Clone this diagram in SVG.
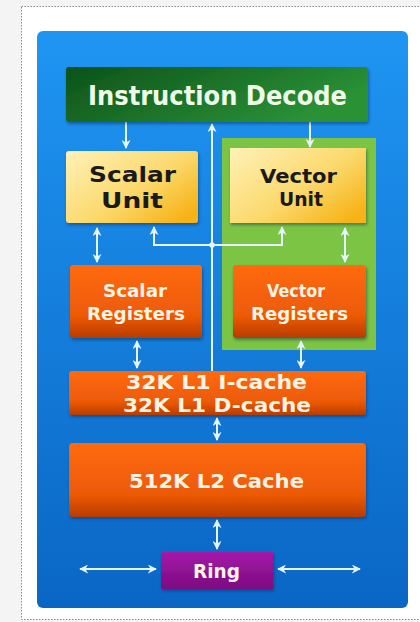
<svg xmlns="http://www.w3.org/2000/svg" width="420" height="622" viewBox="0 0 420 622">
<style>
.t{font-family:"DejaVu Sans","Liberation Sans",sans-serif;font-weight:bold;text-anchor:middle}
.w{fill:#fff4e4}
.k{fill:#1a1a1a}
.c{stroke:#e6f4ff;stroke-width:2;fill:none}
</style>
<defs>
<linearGradient id="gBlue" x1="0" y1="0" x2="0" y2="1"><stop offset="0" stop-color="#1f95f2"/><stop offset="1" stop-color="#0a66c4"/></linearGradient>
<linearGradient id="gDec" x1="0" y1="0" x2="1" y2="0.4"><stop offset="0" stop-color="#0c5219"/><stop offset="1" stop-color="#2a9136"/></linearGradient>
<linearGradient id="gYel" x1="0" y1="0" x2="1" y2="0.8"><stop offset="0" stop-color="#fff1b8"/><stop offset="0.6" stop-color="#fbd86a"/><stop offset="1" stop-color="#f7b318"/></linearGradient>
<linearGradient id="gOra" x1="0" y1="0" x2="0" y2="1"><stop offset="0" stop-color="#ff6a0c"/><stop offset="0.7" stop-color="#ec5a06"/><stop offset="1" stop-color="#b83c00"/></linearGradient>
<linearGradient id="gPur" x1="0" y1="0" x2="0" y2="1"><stop offset="0" stop-color="#a41aa8"/><stop offset="1" stop-color="#7c0a80"/></linearGradient>
<filter id="sh" x="-10%" y="-10%" width="130%" height="140%"><feDropShadow dx="1" dy="2" stdDeviation="1.5" flood-color="#002050" flood-opacity="0.45"/></filter>
<marker id="ah" viewBox="0 0 10 10" refX="9" refY="5" markerWidth="4.5" markerHeight="4.5" orient="auto-start-reverse" markerUnits="strokeWidth"><path d="M0,0 L10,5 L0,10 L3,5 Z" fill="#e6f4ff"/></marker>
</defs>
<rect x="0" y="0" width="420" height="622" fill="#f4f4f4"/>
<rect x="21.5" y="6.5" width="420" height="613" fill="#ffffff" stroke="#8a8a8a" stroke-width="1" stroke-dasharray="1.5,1.5"/>
<rect id="panel" x="37" y="31" width="371" height="577" rx="6" fill="url(#gBlue)"/>
<rect id="vectorArea" x="222" y="138" width="154" height="212" fill="#7cc444"/>

<g id="connectors">
<line class="c" x1="126" y1="122" x2="126" y2="148" marker-end="url(#ah)"/>
<line class="c" x1="310" y1="122" x2="310" y2="147" marker-end="url(#ah)"/>
<line class="c" x1="212" y1="371" x2="212" y2="124" marker-end="url(#ah)"/>
<line class="c" x1="97" y1="228" x2="97" y2="262" marker-start="url(#ah)" marker-end="url(#ah)"/>
<line class="c" x1="345" y1="228" x2="345" y2="262" marker-start="url(#ah)" marker-end="url(#ah)"/>
<polyline class="c" points="154,227 154,245 282,245 282,227" marker-start="url(#ah)" marker-end="url(#ah)"/>
<circle cx="212" cy="245" r="2.8" fill="#e6f4ff"/>
<line class="c" x1="137" y1="341" x2="137" y2="368" marker-start="url(#ah)" marker-end="url(#ah)"/>
<line class="c" x1="301" y1="341" x2="301" y2="368" marker-start="url(#ah)" marker-end="url(#ah)"/>
<line class="c" x1="217" y1="418" x2="217" y2="440" marker-start="url(#ah)" marker-end="url(#ah)"/>
<line class="c" x1="217" y1="520" x2="217" y2="549" marker-start="url(#ah)" marker-end="url(#ah)"/>
<line class="c" x1="80" y1="569" x2="156" y2="569" marker-start="url(#ah)" marker-end="url(#ah)"/>
<line class="c" x1="278" y1="569" x2="360" y2="569" marker-start="url(#ah)" marker-end="url(#ah)"/>
</g>

<g id="decode">
<rect x="66" y="67" width="302" height="55" rx="3" fill="url(#gDec)" filter="url(#sh)"/>
<text class="t" x="217.5" y="105" font-size="26" fill="#eefbe8" textLength="259" lengthAdjust="spacingAndGlyphs">Instruction Decode</text>
</g>
<g id="scalarUnit">
<rect x="66" y="151" width="132" height="72" rx="3" fill="url(#gYel)" filter="url(#sh)"/>
<text class="t k" x="132.5" y="182" font-size="22" textLength="87" lengthAdjust="spacingAndGlyphs">Scalar</text>
<text class="t k" x="132" y="208" font-size="22" textLength="62" lengthAdjust="spacingAndGlyphs">Unit</text>
</g>
<g id="vectorUnit">
<rect x="230" y="148" width="136" height="75" fill="url(#gYel)" filter="url(#sh)"/>
<text class="t k" x="298.5" y="183" font-size="19" textLength="77" lengthAdjust="spacingAndGlyphs">Vector</text>
<text class="t k" x="301" y="206" font-size="19" textLength="44" lengthAdjust="spacingAndGlyphs">Unit</text>
</g>
<g id="scalarRegisters">
<rect x="70" y="265" width="132" height="73" rx="3" fill="url(#gOra)" filter="url(#sh)"/>
<text class="t w" x="135" y="297" font-size="17" textLength="64" lengthAdjust="spacingAndGlyphs">Scalar</text>
<text class="t w" x="136" y="320" font-size="17" textLength="98" lengthAdjust="spacingAndGlyphs">Registers</text>
</g>
<g id="vectorRegisters">
<rect x="233" y="265" width="133" height="73" rx="3" fill="url(#gOra)" filter="url(#sh)"/>
<text class="t w" x="296" y="297" font-size="17" textLength="58" lengthAdjust="spacingAndGlyphs">Vector</text>
<text class="t w" x="299.5" y="320" font-size="17" textLength="97" lengthAdjust="spacingAndGlyphs">Registers</text>
</g>
<g id="l1cache">
<rect x="69" y="371" width="297" height="44" rx="3" fill="url(#gOra)" filter="url(#sh)"/>
<text class="t w" x="216.5" y="389" font-size="19" textLength="181" lengthAdjust="spacingAndGlyphs">32K L1 I-cache</text>
<text class="t w" x="217" y="412" font-size="19" textLength="188" lengthAdjust="spacingAndGlyphs">32K L1 D-cache</text>
</g>
<g id="l2cache">
<rect x="69" y="443" width="297" height="74" rx="4" fill="url(#gOra)" filter="url(#sh)"/>
<text class="t w" x="216.5" y="488" font-size="20" font-weight="600" style="font-weight:600" textLength="175" lengthAdjust="spacingAndGlyphs">512K L2 Cache</text>
</g>
<g id="ring">
<rect x="161" y="552" width="112" height="37" fill="url(#gPur)" filter="url(#sh)"/>
<text class="t w" x="216.5" y="578" font-size="20" textLength="47" lengthAdjust="spacingAndGlyphs">Ring</text>
</g>
</svg>
